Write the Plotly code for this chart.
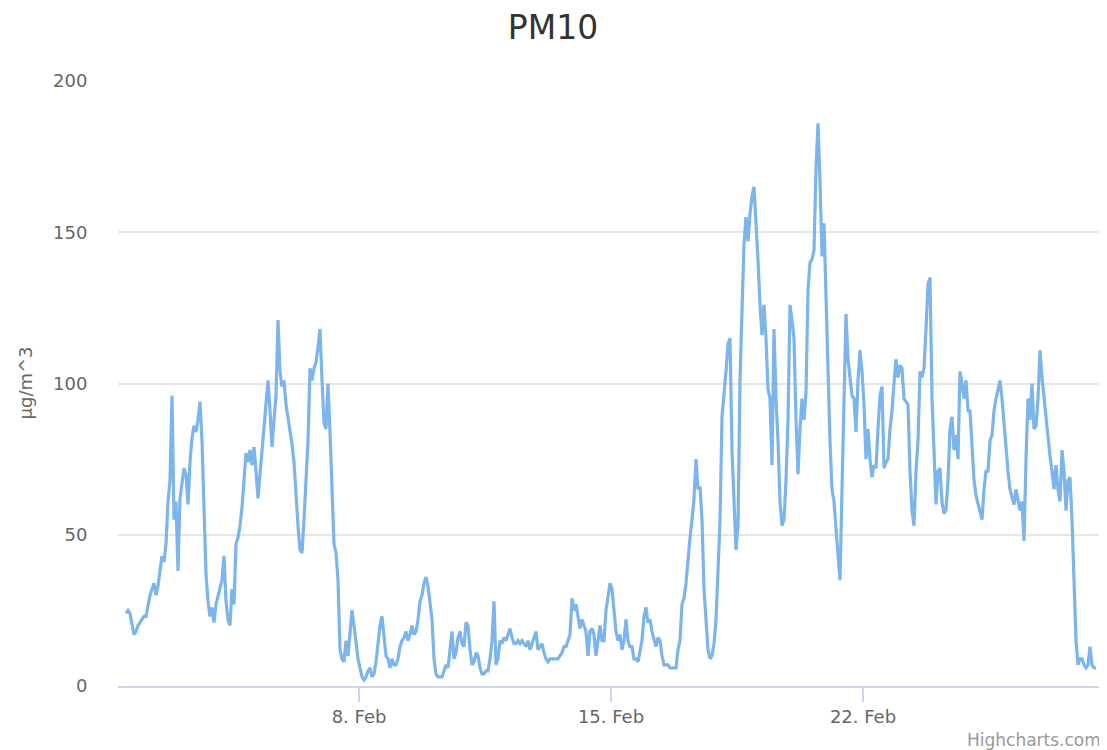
import pandas as pd
import plotly.graph_objects as go

# PM10 readings (µg/m^3), sampled every 80 minutes starting 2016-02-01 12:40
start_time = "2016-02-01 12:40"
step = "80min"
pm10 = [
    24, 25, 24, 20, 17, 18, 20, 21, 22, 23,
    23, 27, 30, 32, 34, 30, 33, 38, 43, 41,
    47, 61, 68, 96, 55, 61, 38, 62, 68, 72,
    70, 60, 74, 82, 86, 84, 88, 94, 81, 55,
    37, 28, 23, 26, 21, 27, 30, 32, 35, 43,
    28, 22, 20, 32, 27, 47, 49, 53, 59, 68,
    77, 74, 78, 73, 79, 71, 62, 70, 78, 88,
    96, 101, 91, 79, 88, 96, 121, 104, 99, 101,
    93, 89, 85, 80, 74, 61, 53, 45, 44, 55,
    68, 81, 105, 101, 105, 107, 112, 118, 101, 87,
    85, 100, 84, 65, 47, 44, 35, 12, 9, 8,
    15, 10, 17, 25, 20, 14, 9, 6, 3, 2,
    3, 5, 6, 3, 4, 8, 14, 20, 23, 15,
    10, 9, 6, 9, 7, 7, 9, 13, 15, 16,
    18, 15, 17, 20, 17, 18, 22, 28, 30, 34,
    36, 33, 28, 22, 9, 4, 3, 3, 3, 5,
    7, 6, 12, 18, 9, 11, 16, 18, 14, 13,
    21, 20, 12, 7, 8, 11, 10, 6, 4, 4,
    5, 5, 9, 15, 28, 7, 9, 15, 14, 16,
    15, 17, 19, 16, 14, 14, 15, 14, 15, 14,
    13, 15, 12, 14, 16, 18, 12, 13, 14, 11,
    9, 8, 9, 9, 9, 9, 9, 10, 11, 13,
    13, 15, 17, 29, 25, 27, 22, 19, 22, 20,
    18, 10, 18, 19, 17, 10, 15, 20, 15, 15,
    25, 30, 34, 32, 24, 18, 15, 17, 12, 15,
    22, 15, 13, 13, 9, 9, 8, 11, 15, 23,
    26, 21, 22, 18, 15, 13, 16, 15, 10, 7,
    7, 7, 6, 6, 6, 6, 12, 15, 27, 29,
    34, 43, 49, 55, 62, 75, 65, 66, 55, 32,
    20, 12, 9, 10, 14, 22, 38, 55, 89, 96,
    104, 113, 115, 78, 58, 45, 53, 101, 124, 146,
    155, 147, 156, 162, 165, 155, 141, 126, 116, 126,
    115, 98, 95, 73, 118, 95, 81, 61, 53, 55,
    68, 88, 126, 121, 115, 88, 70, 85, 95, 88,
    97, 131, 140, 141, 144, 171, 186, 167, 142, 153,
    128, 99, 81, 65, 61, 52, 42, 35, 65, 101,
    123, 108, 102, 96, 95, 84, 101, 111, 104, 93,
    75, 85, 75, 69, 73, 72, 85, 96, 99, 72,
    74, 75, 85, 91, 100, 108, 102, 106, 105, 95,
    94, 93, 71, 58, 53, 71, 81, 104, 102, 105,
    118, 133, 135, 95, 78, 60, 71, 72, 61, 57,
    58, 68, 85, 89, 78, 83, 75, 104, 100, 95,
    101, 91, 91, 81, 68, 63, 60, 58, 55, 65,
    71, 71, 81, 83, 91, 95, 98, 101, 95, 86,
    78, 71, 65, 62, 60, 65, 61, 58, 61, 48,
    75, 95, 88, 100, 85, 86, 95, 111, 102, 95,
    88, 81, 76, 71, 65, 73, 65, 61, 78, 71,
    58, 68, 69, 55, 32, 15, 7, 9, 9, 7,
    6, 7, 13, 7, 6, 6,
]
times = pd.date_range(start=start_time, periods=len(pm10), freq=step)

tick_dates = ["2016-02-08", "2016-02-15", "2016-02-22"]
tick_labels = ["8. Feb", "15. Feb", "22. Feb"]
y_ticks = [0, 50, 100, 150, 200]

FONT = "DejaVu Sans"

fig = go.Figure()
fig.add_trace(go.Scatter(
    x=times, y=pm10, mode="lines",
    line=dict(color="#7cb5ec", width=3.2),
    name="PM10", showlegend=False,
))

# the page body has an 8px margin, so the figure is sized/offset to compensate
fig.update_layout(
    width=1099, height=742,
    margin=dict(l=110, r=7, t=73, b=64),
    paper_bgcolor="white", plot_bgcolor="white",
    font=dict(family=FONT, color="#666666", size=18),
    title=dict(text="PM10", x=(553 - 118) / 982, xref="paper", xanchor="center",
               y=1 - 19 / 742, yref="container", yanchor="middle",
               font=dict(family=FONT, size=33, color="#333333")),
    xaxis=dict(
        range=["2016-02-01 07:20", "2016-02-28 14:00"],
        tickvals=tick_dates, ticktext=tick_labels,
        showgrid=False, zeroline=False,
        showline=True, linecolor="#ccd6eb", linewidth=1.5,
        ticks="outside", ticklen=14, tickcolor="#ccd6eb", tickwidth=1.5,
        tickfont=dict(family=FONT, size=18, color="#666666"),
    ),
    yaxis=dict(
        range=[0, 200], tickvals=y_ticks,
        showgrid=True, gridcolor="#e6e6e6", gridwidth=1.5,
        zeroline=False, showline=False,
        ticks="outside", ticklen=26, tickcolor="rgba(0,0,0,0)",
        tickfont=dict(family=FONT, size=18, color="#666666"),
    ),
    annotations=[
        dict(text="µg/m^3", textangle=-90, xref="paper", yref="paper",
             x=(25 - 118) / 982, y=0.5, xanchor="center", yanchor="middle",
             showarrow=False, font=dict(family=FONT, size=18, color="#666666")),
        dict(text="Highcharts.com", xref="paper", yref="paper",
             x=(1103 - 118) / 982, y=(686 - 740) / 605, xanchor="right", yanchor="middle",
             showarrow=False, font=dict(family=FONT, size=17, color="#999999")),
    ],
)

fig.write_html("out.html")
